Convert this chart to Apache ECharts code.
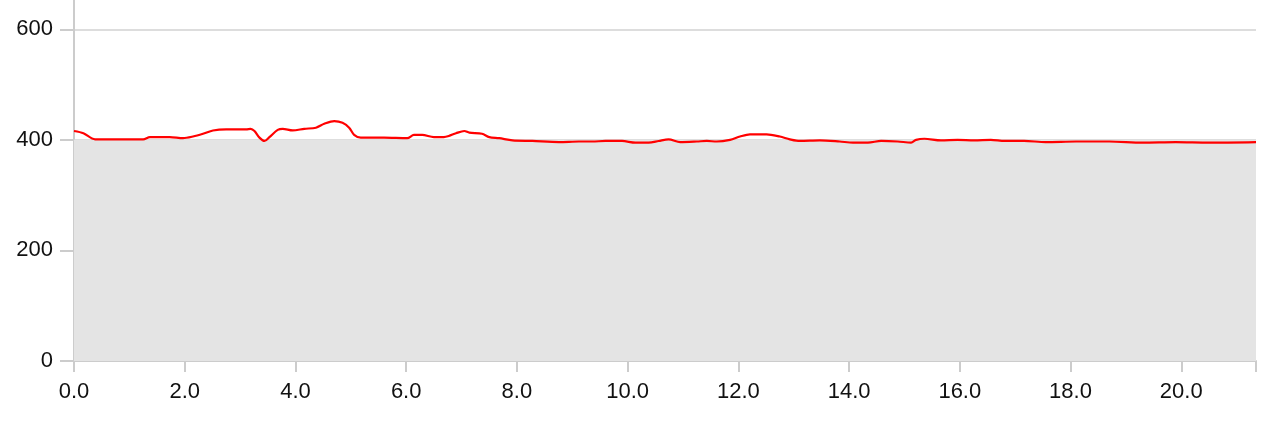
<!DOCTYPE html>
<html>
<head>
<meta charset="utf-8">
<script src="https://cdn.jsdelivr.net/npm/echarts@6/dist/echarts.min.js"></script>
<style>html,body{margin:0;padding:0;background:#fff;overflow:hidden}#c{width:1286px;height:451px;margin-top:-30px}</style>
</head>
<body>
<div id="c"></div>
<script>
const xValues = [0, 0.17, 0.38, 1.25, 1.37, 1.73, 1.97, 2.15, 2.33, 2.51, 2.75, 3.11, 3.19, 3.26, 3.35, 3.44, 3.53, 3.68, 3.77, 3.95, 4.16, 4.37, 4.52, 4.70, 4.85, 4.97, 5.06, 5.18, 5.60, 6.02, 6.14, 6.29, 6.50, 6.68, 6.77, 6.90, 7.05, 7.14, 7.37, 7.50, 7.68, 7.92, 8.28, 8.76, 9.12, 9.36, 9.60, 9.90, 10.14, 10.38, 10.56, 10.74, 10.95, 11.25, 11.43, 11.61, 11.85, 12.03, 12.21, 12.51, 12.75, 12.93, 13.11, 13.47, 13.83, 14.07, 14.34, 14.58, 14.88, 15.12, 15.21, 15.36, 15.66, 15.96, 16.26, 16.56, 16.81, 17.16, 17.55, 18.10, 18.70, 19.30, 19.90, 20.50, 21.35];
const yValues = [416, 412, 401, 401, 405, 405, 403, 406, 411, 417, 419, 419, 420, 416, 404, 398, 405, 418, 420, 417, 420, 422, 429, 434, 431, 422, 409, 404, 404, 403, 409, 409, 405, 405, 407, 412, 416, 413, 411, 405, 403, 399, 398, 396, 397, 397, 398, 398, 395, 395, 398, 401, 396, 397, 398, 397, 400, 406, 410, 410, 406, 401, 398, 399, 397, 395, 395, 398, 397, 395, 400, 402, 399, 400, 399, 400, 398, 398, 396, 397, 397, 395, 396, 395, 396];
const baseValue = 400;
const xMin = 0, xMax = 21.35;
const yTicks = [0, 200, 400, 600];

const lineData = xValues.map((x, i) => [x, yValues[i]]);
const baseData = [[xMin, baseValue], [xMax, baseValue]];

const chart = echarts.init(document.getElementById('c'), null, {renderer: 'canvas'});
const labelFont = {fontFamily: 'Liberation Sans, Arial, sans-serif', fontSize: 22, color: '#111'};
chart.setOption({
  animation: false,
  grid: {left: 74, right: 30, top: 4, bottom: 60, containLabel: false},
  xAxis: {
    type: 'value', min: xMin, max: xMax, interval: 2,
    axisLine: {show: true, onZero: false, lineStyle: {color: '#cccccc', width: 2}},
    axisTick: {show: true, length: 11, lineStyle: {color: '#cccccc', width: 2}},
    splitLine: {show: false},
    axisLabel: Object.assign({margin: 20, formatter: v => (Math.abs(v / 2 - Math.round(v / 2)) < 1e-6 ? v.toFixed(1) : '')}, labelFont)
  },
  yAxis: {
    type: 'value', min: 0, max: 700, interval: 200,
    axisLine: {show: true, lineStyle: {color: '#cccccc', width: 2}},
    axisTick: {show: true, length: 14, lineStyle: {color: '#cccccc', width: 2}},
    splitLine: {show: true, lineStyle: {color: '#dddddd', width: 2}},
    axisLabel: Object.assign({margin: 21, formatter: v => (yTicks.indexOf(v) >= 0 ? String(v) : '')}, labelFont)
  },
  series: [
    {
      type: 'line', data: baseData, symbol: 'none', silent: true,
      lineStyle: {width: 0}, areaStyle: {color: '#e4e4e4', opacity: 1}, z: 1
    },
    {
      type: 'line', data: lineData, symbol: 'none', smooth: 0.3,
      lineStyle: {color: '#ff0000', width: 2.2}, z: 3
    }
  ]
});
</script>
</body>
</html>
